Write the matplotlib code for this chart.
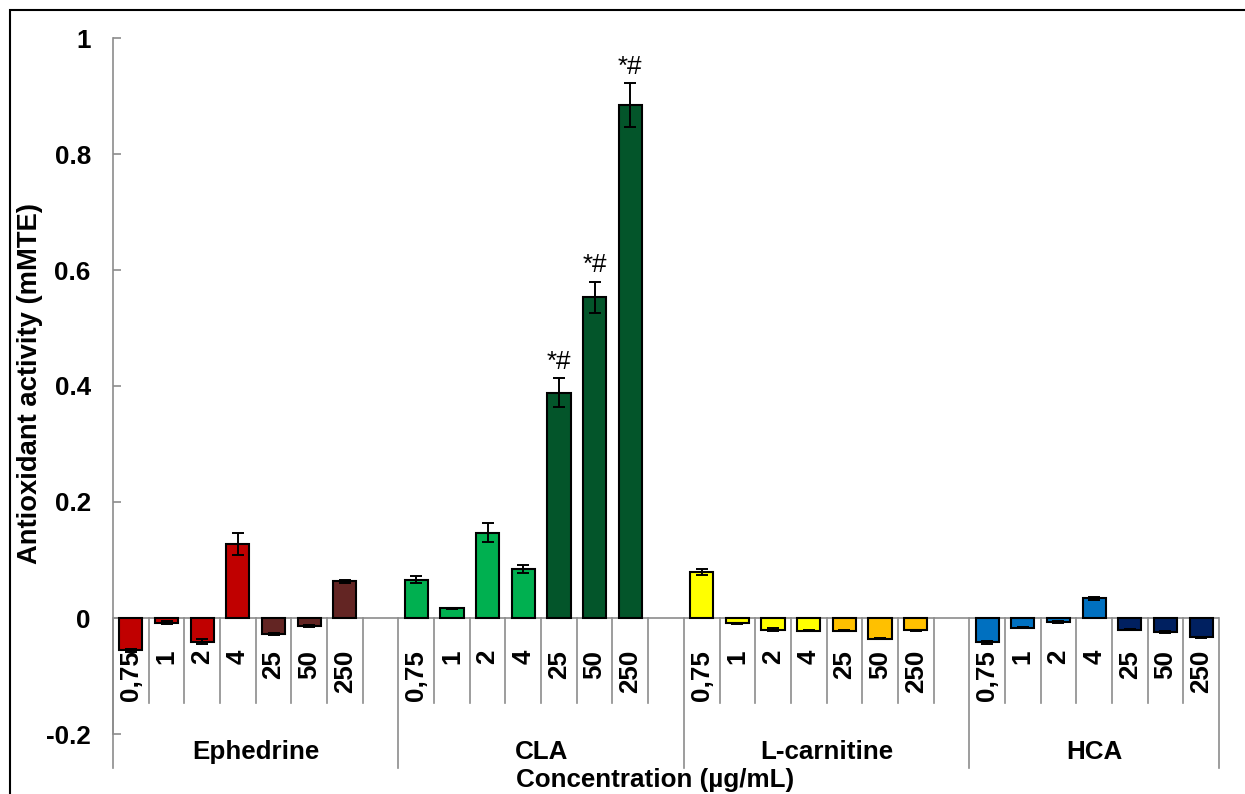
import matplotlib
matplotlib.use("Agg")
import matplotlib.pyplot as plt
from matplotlib.patches import Rectangle

plt.rcParams['font.family'] = ['Liberation Sans', 'DejaVu Sans']

# ---- data -------------------------------------------------------------
compounds = ["Ephedrine", "CLA", "L-carnitine", "HCA"]
concentrations = ["0,75", "1", "2", "4", "25", "50", "250"]

ephedrine_mean = [-0.056, -0.008, -0.041, 0.127, -0.028, -0.014, 0.063]
ephedrine_sd = [0.003, 0.002, 0.004, 0.019, 0.002, 0.002, 0.002]
cla_mean = [0.066, 0.017, 0.147, 0.084, 0.388, 0.553, 0.884]
cla_sd = [0.006, 0.001, 0.016, 0.007, 0.025, 0.027, 0.038]
lcarnitine_mean = [0.080, -0.009, -0.020, -0.022, -0.022, -0.036, -0.021]
lcarnitine_sd = [0.005, 0.001, 0.003, 0.001, 0.001, 0.001, 0.001]
hca_mean = [-0.042, -0.017, -0.007, 0.034, -0.020, -0.024, -0.033]
hca_sd = [0.002, 0.001, 0.001, 0.003, 0.001, 0.001, 0.001]

means = [ephedrine_mean, cla_mean, lcarnitine_mean, hca_mean]
sds = [ephedrine_sd, cla_sd, lcarnitine_sd, hca_sd]

# significance marks (compound index, concentration index)
sig_marks = [(1, 4, "*#"), (1, 5, "*#"), (1, 6, "*#")]

yticks = [-0.2, 0, 0.2, 0.4, 0.6, 0.8, 1]
ytick_labels = ["-0.2", "0", "0.2", "0.4", "0.6", "0.8", "1"]

# ---- style ------------------------------------------------------------
low_colors = ["#C00000", "#00B050", "#FFFF00", "#0070C0"]
high_colors = ["#632523", "#03552A", "#FFC000", "#002060"]
axis_gray = "#8C8C8C"
slots_per_group = 8
FS = 18.7
W, H = 1245, 794

fig = plt.figure(figsize=(W / 100, H / 100), dpi=100)
ax = fig.add_axes([113 / W, 1 - 734 / H, (1219 - 113) / W, (734 - 38) / H])

positions, values, errors, colors = [], [], [], []
for g, (m, s) in enumerate(zip(means, sds)):
    for k in range(len(concentrations)):
        positions.append(g * slots_per_group + k)
        values.append(m[k])
        errors.append(s[k])
        colors.append(low_colors[g] if k < 4 else high_colors[g])

ax.bar(positions, values, width=0.65, color=colors, edgecolor="black",
       linewidth=1.5, zorder=3, yerr=errors, capsize=4.5,
       error_kw=dict(elinewidth=1.4, capthick=1.4, ecolor="black", zorder=4))

n_slots = slots_per_group * (len(compounds) - 1) + len(concentrations)
ax.set_xlim(-0.5, n_slots - 0.5)
ax.set_ylim(-0.2, 1.0)

# axes styling
for side in ["top", "right", "bottom"]:
    ax.spines[side].set_visible(False)
ax.spines["left"].set_color(axis_gray)
ax.spines["left"].set_linewidth(1.2)
ax.set_xticks([])
ax.set_yticks(yticks)
ax.set_yticklabels(ytick_labels, fontsize=FS, fontweight="bold")
ax.tick_params(axis="y", direction="in", length=6, width=1.2,
               color=axis_gray, pad=16)

# category axis along zero
ax.axhline(0, color=axis_gray, lw=1.2, zorder=2)

slot_bottom = (618 - 703) / 580
group_bottom = (618 - 768) / 580
label_top = (618 - 650) / 580
group_label_y = (618 - 752) / 580

group_edges = [g * slots_per_group - 0.5 for g in range(len(compounds))] + [n_slots - 0.5]
for b in range(n_slots + 1):
    xb = b - 0.5
    y0 = group_bottom if xb in group_edges else slot_bottom
    ax.plot([xb, xb], [0, y0], color=axis_gray, lw=1.2, clip_on=False, zorder=2)

for g, name in enumerate(compounds):
    for k, c in enumerate(concentrations):
        ax.text(g * slots_per_group + k, label_top, c, rotation=90,
                ha="center", va="top", fontsize=FS, fontweight="bold")
    left = group_edges[g]
    right = group_edges[g + 1]
    ax.text((left + right) / 2, group_label_y, name, ha="center",
            va="center", fontsize=FS, fontweight="bold")

for g, k, mark in sig_marks:
    top = means[g][k] + sds[g][k]
    ax.annotate(mark, (g * slots_per_group + k, top), xytext=(0, 7),
                textcoords="offset points", ha="center", va="baseline",
                fontsize=FS)

fig.text(30 / W, 1 - 384 / H, "Antioxidant activity (mMTE)", rotation=90,
         ha="center", va="center", fontsize=19.7, fontweight="bold")
fig.text(655 / W, 1 - 780 / H, "Concentration (µg/mL)", ha="center",
         va="center", fontsize=FS, fontweight="bold")

# outer chart border
fig.patches.append(Rectangle((10 / W, -0.1), 1.2, 1.1 - 10 / H,
                             transform=fig.transFigure, fill=False,
                             edgecolor="black", lw=1.5))

fig.savefig("out.png", dpi=100)
